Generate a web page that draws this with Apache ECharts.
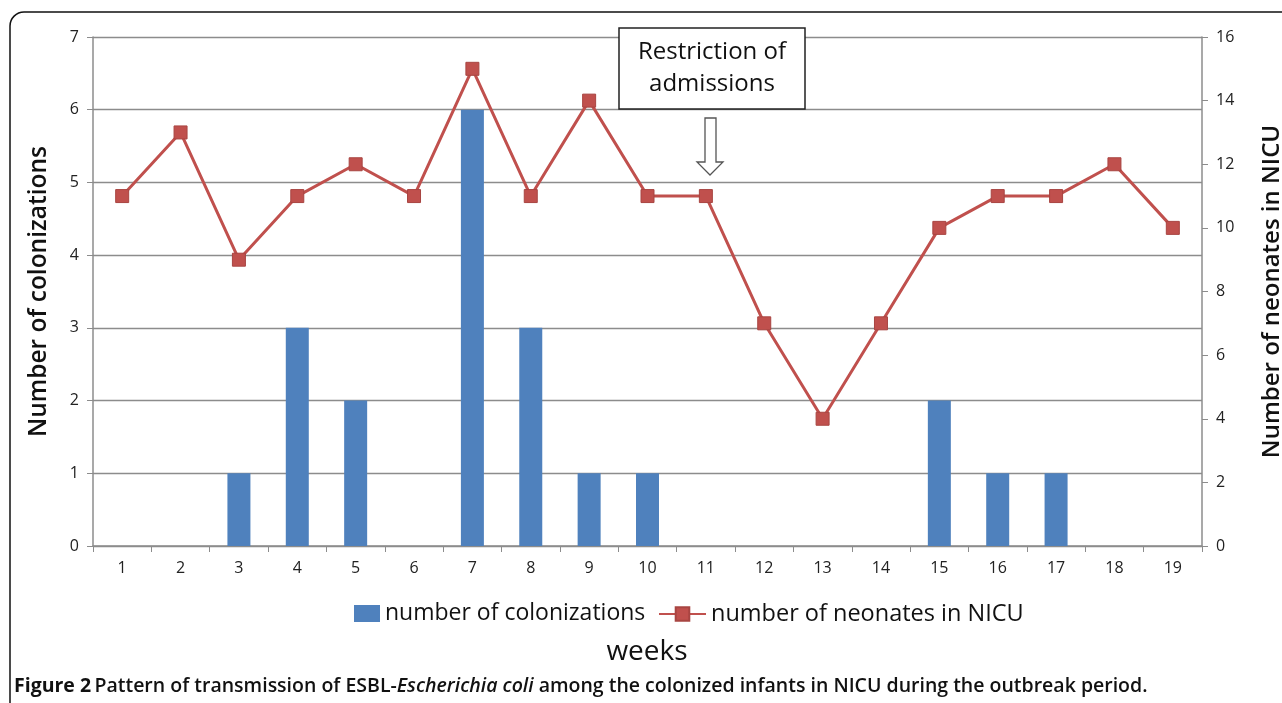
<!DOCTYPE html>
<html><head><meta charset="utf-8">
<script src="https://cdn.jsdelivr.net/npm/echarts@6/dist/echarts.min.js"></script>
<style>html,body{margin:0;padding:0;background:#fff}#c{width:1282px;height:703px}</style>
</head><body><div id="c"></div>
<script>
const weeks = ['1','2','3','4','5','6','7','8','9','10','11','12','13','14','15','16','17','18','19'];
const colonizations = [0,0,1,3,2,0,6,3,1,1,0,0,0,0,2,1,1,0,0];
const neonates = [11,13,9,11,12,11,15,11,14,11,11,7,4,7,10,11,11,12,10];
const FONT = '"Open Sans", "Noto Sans", sans-serif';
const chart = echarts.init(document.getElementById('c'));
const axisGray = '#8c8c8c';
chart.setOption({
  animation: false,
  textStyle: {fontFamily: FONT},
  grid: {left: 93, right: 80, top: 37, bottom: 157, outerBoundsMode: 'none', containLabel: false},
  legend: [
    {
      left: 349, top: 597, itemGap: 3,
      itemWidth: 26, itemHeight: 17,
      textStyle: {fontSize: 23, color: '#111', fontFamily: FONT},
      data: [{name: 'number of colonizations', icon: 'rect'}]
    },
    {
      left: 653, top: 597, itemGap: 3,
      itemWidth: 47, itemHeight: 17,
      textStyle: {fontSize: 23.5, color: '#111', fontFamily: FONT},
      data: [{name: 'number of neonates in NICU'}]
    }
  ],
  xAxis: {
    type: 'category', data: weeks, boundaryGap: true,
    axisLine: {lineStyle: {color: axisGray, width: 1.5}},
    axisTick: {show: true, length: 6, alignWithLabel: false, lineStyle: {color: axisGray}},
    axisLabel: {fontSize: 16, color: '#222', margin: 14}
  },
  yAxis: [
    {
      type: 'value', min: 0, max: 7, interval: 1,
      name: 'Number of colonizations', nameLocation: 'middle', nameGap: 41, nameRotate: 90,
      nameTextStyle: {fontSize: 24.5, fontWeight: 600, color: '#111', fontFamily: FONT},
      axisLine: {show: true, lineStyle: {color: axisGray, width: 1.5}},
      axisTick: {show: true, length: 6, lineStyle: {color: axisGray}},
      axisLabel: {fontSize: 16, color: '#222', margin: 14},
      splitLine: {lineStyle: {color: axisGray, width: 1.3}}
    },
    {
      type: 'value', min: 0, max: 16, interval: 2, position: 'right',
      name: 'Number of neonates in NICU', nameLocation: 'middle', nameGap: 58, nameRotate: 90,
      nameTextStyle: {fontSize: 24, fontWeight: 600, color: '#111', fontFamily: FONT},
      axisLine: {show: true, lineStyle: {color: axisGray, width: 1.5}},
      axisTick: {show: true, length: 6, lineStyle: {color: axisGray}},
      axisLabel: {fontSize: 16, color: '#222', margin: 14},
      splitLine: {show: false}
    }
  ],
  series: [
    {
      name: 'number of colonizations', type: 'bar', yAxisIndex: 0,
      data: colonizations, barWidth: 23,
      itemStyle: {color: '#4F81BD'}
    },
    {
      name: 'number of neonates in NICU', type: 'line', yAxisIndex: 1,
      data: neonates, symbol: 'rect', symbolSize: 13,
      lineStyle: {color: '#C0504D', width: 3},
      itemStyle: {color: '#C0504D', borderColor: '#A84542', borderWidth: 1}
    }
  ],
  graphic: [
    {type: 'rect', z: 0, shape: {x: 10, y: 12, width: 1300, height: 720, r: 14},
     style: {fill: null, stroke: '#111', lineWidth: 1.5}},
    {type: 'rect', z: 10, shape: {x: 619, y: 28, width: 186, height: 81},
     style: {fill: '#fff', stroke: '#222', lineWidth: 1.5}},
    {type: 'text', z: 11, x: 712, y: 68,
     style: {text: 'Restriction of\nadmissions', fill: '#111', font: '24px ' + FONT,
             textAlign: 'center', textVerticalAlign: 'middle', lineHeight: 32}},
    {type: 'polygon', z: 11,
     shape: {points: [[705,118],[716,118],[716,162],[723,162],[710,175],[697,162],[705,162]]},
     style: {fill: '#fff', stroke: '#555', lineWidth: 1.3}},
    {type: 'text', z: 11, x: 647, y: 652,
     style: {text: 'weeks', fill: '#111', font: '28px ' + FONT, textAlign: 'center', textVerticalAlign: 'middle'}},
    {type: 'text', z: 11, x: 14, y: 686,
     style: {
       text: '{b|Figure 2} {s|Pattern of transmission of ESBL-}{i|Escherichia coli}{s| among the colonized infants in NICU during the outbreak period.}',
       textVerticalAlign: 'middle',
       rich: {
         b: {font: 'bold 19.5px ' + FONT, fill: '#111'},
         s: {font: '600 19.5px ' + FONT, fill: '#111'},
         i: {font: 'italic 600 19.5px ' + FONT, fill: '#111'}
       }
     }}
  ]
});
</script>
</body></html>
